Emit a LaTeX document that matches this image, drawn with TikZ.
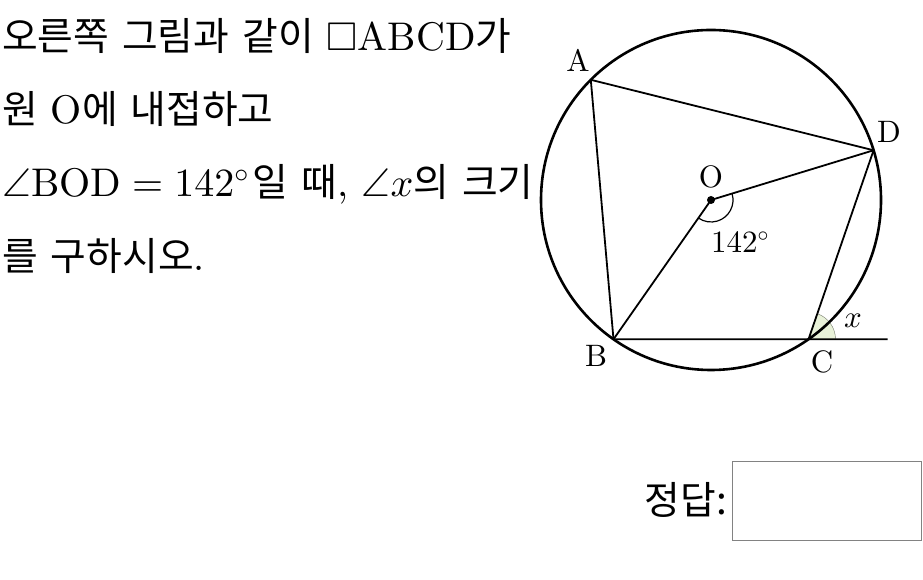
\RequirePackage{fix-cm}
\documentclass[tikz,border=0pt]{standalone}
\usepackage{amssymb}
\usepackage{fontspec}
\setmainfont{lmroman10-regular.otf}
\newfontfamily\kr{Noto Sans CJK KR}[Scale=0.97, WordSpace=1.5]
\DeclareFontShape{OT1}{cmr}{m}{n}{<->cmr10}{}
\DeclareFontShape{OML}{cmm}{m}{it}{<->cmmi10}{}
\DeclareFontShape{OMS}{cmsy}{m}{n}{<->cmsy10}{}
\usetikzlibrary{calc}
\definecolor{xfill}{RGB}{233,242,217}
\definecolor{boxgray}{RGB}{130,130,130}

\begin{document}
\begin{tikzpicture}[x=1pt, y=1pt,
    every node/.style={inner sep=0pt},
    quest/.style={anchor=base west, font=\fontsize{40}{44}\selectfont},
    lab/.style={font=\fontsize{31}{36}\selectfont}]

\useasboundingbox (0,0) rectangle (923,580);

% 문제 텍스트
\node[quest] (line1) at (2,529) {{\kr 오른쪽 그림과 같이 }$\square$ABCD{\kr 가}};
\node[quest] (line2) at (2,456) {{\kr 원 }O{\kr 에 내접하고}};
\node[quest] (line3) at (2,383) {$\angle\mathrm{BOD}=142^\circ$\hspace{4pt}{\kr 일 때}, $\angle x${\kr 의 크기}};
\node[quest] (line4) at (2,309) {{\kr 를 구하시오}.};

% 원과 내접사각형
\coordinate (O) at (711,380);
\coordinate (A) at ($(O)+(135:170)$);
\coordinate (B) at ($(O)+(235:170)$);
\coordinate (C) at ($(O)+(305:170)$);
\coordinate (D) at ($(O)+(17:170)$);
\coordinate (E) at ($(C)+(79,0)$);

\filldraw[fill=xfill, draw=xfill!50!black, line width=0.4pt]
    (C) -- ++(0:27) arc (0:71:27) -- cycle;

\draw[line width=1.8pt] (A) -- (B) -- (E);
\draw[line width=1.8pt] (C) -- (D) -- (A);
\draw[line width=1.8pt] (B) -- (O) -- (D);
\draw[line width=2.6pt] (O) circle (170);
\draw[line width=1.2pt] ($(O)+(17:22)$) arc (17:-125:22);
\fill (O) circle (4);

% 라벨
\node[lab] (lA) at (578,520) {A};
\node[lab] (lB) at (596,224) {B};
\node[lab] (lC) at (822,218) {C};
\node[lab] (lD) at (889,448) {D};
\node[lab] (lO) at (711,403) {O};
\node[lab] (lang) at (740,338) {$142^\circ$};
\node[lab] (lx) at (853,259) {$x$};

% 정답 칸
\node[quest, anchor=east] (ans) at (727,80) {{\kr 정답:}};
\draw[boxgray, line width=1pt] (732,118) rectangle (921,39);

\end{tikzpicture}
\end{document}
